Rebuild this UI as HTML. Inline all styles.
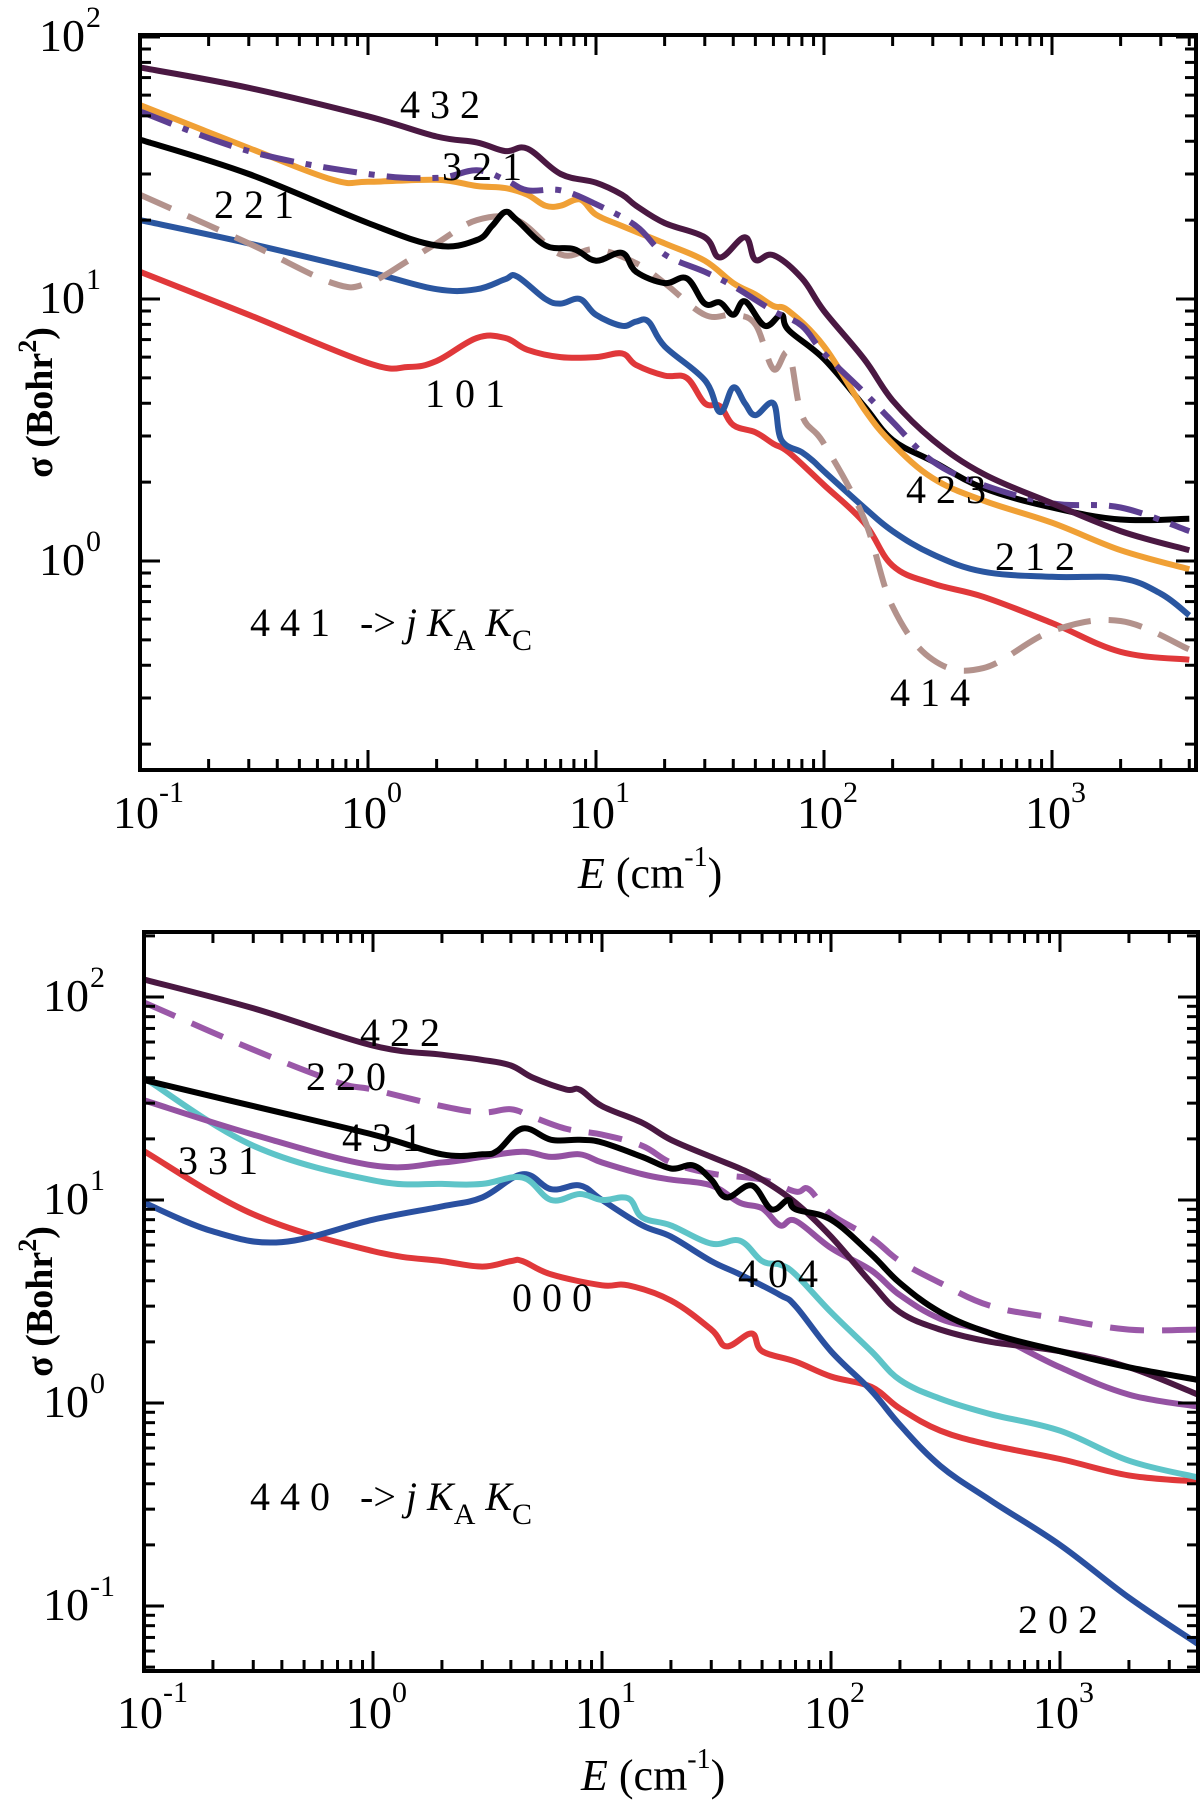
<!DOCTYPE html>
<html><head><meta charset="utf-8">
<style>
html,body{margin:0;padding:0;background:#fff;}
svg{display:block;font-family:"Liberation Serif",serif;}
</style></head>
<body>
<svg id="fig" width="1200" height="1806" viewBox="0 0 1200 1806" xmlns="http://www.w3.org/2000/svg"></svg>
<script>
// ---------- data: top panel (441 -> j KA KC) ----------
const topE_101=[0.1,0.3,1,1.5,2,3,4,5,7,10,13,15,20,25,30,35,40,50,60,70,100,150,200,300,500,1000,2000,4000];
const topS_101=[12.7,8.7,5.7,5.5,5.8,7.1,7.1,6.4,6.0,6.0,6.2,5.6,5.1,5.0,4.0,3.9,3.3,3.1,2.8,2.6,1.95,1.4,0.96,0.82,0.73,0.58,0.45,0.42];
const topE_212=[0.1,0.3,1,2,3,4,4.5,6,7,8.5,10,13,15,17,20,30,35,40,45,50,60,65,80,90,100,150,200,300,500,1000,2000,3000,4000];
const topS_212=[20,16.3,12.7,10.9,10.9,11.9,12.2,10,9.6,10,8.7,7.9,8.2,8.2,6.6,4.9,3.7,4.6,4.0,3.6,4.0,2.9,2.6,2.4,2.2,1.6,1.3,1.06,0.91,0.87,0.86,0.75,0.62];
const topE_221=[0.1,0.3,1,2,3,3.5,4,4.5,6,8,10,13,15,20,25,30,35,40,45,55,65,70,100,150,200,300,500,1000,2000,4000];
const topS_221=[40.6,30,19.5,16,16.8,19,21.5,20,16,15.5,14,15,12.7,11.5,12,9.6,9.7,8.7,9.8,7.9,8.7,7.6,5.9,3.9,2.9,2.4,1.9,1.6,1.44,1.45];
const topE_423=[0.1,0.3,0.7,1,2,3,4,5,6,7,8.5,10,13,20,30,40,50,60,70,100,150,200,300,500,1000,2000,4000];
const topS_423=[55,37.7,28.5,28,28.5,27,26.5,25,22.7,22.7,24,21,19,16.3,14,11.5,10.4,9.4,9.0,6.6,3.8,2.8,2.07,1.7,1.4,1.1,0.93];
const topE_321=[0.1,0.3,1,2,3,4,5,7,10,15,20,30,40,60,80,100,150,200,300,500,1000,2000,4000];
const topS_321=[52,36.7,30,29,31,28.5,26,26,23,19,14.8,12.7,11.2,9,7.9,6.2,4.4,3.4,2.4,1.95,1.66,1.6,1.3];
const topE_432=[0.1,0.3,1,2,3,4,5,7,10,13,15,20,30,35,45,50,60,80,100,150,200,300,500,1000,2000,4000];
const topS_432=[76.5,64,49.8,41.7,39.6,36.7,37.5,30,27.8,25,22.7,19.5,17.2,14.4,17.2,14.1,14.7,12,9.0,5.9,4.1,2.9,2.15,1.66,1.3,1.1];
const topE_414=[0.1,0.3,0.7,1,1.5,2,3,4.5,7,10,15,20,30,40,50,60,70,80,100,150,200,300,500,1000,2000,4000];
const topS_414=[25,16.3,11.5,11.5,14,16.3,20,20,14.8,15.5,13.7,11.5,8.7,8.7,8.0,5.4,6.2,3.6,2.8,1.45,0.67,0.42,0.39,0.54,0.59,0.46];
// ---------- data: bottom panel (440 -> j KA KC) ----------
const botE_000=[0.1,0.3,1,2,3,4,4.5,6,10,13,20,30,35,45,50,70,100,150,200,300,500,1000,2000,4000];
const botS_000=[17.4,8.5,5.6,5.0,4.7,5.0,5.0,4.3,3.8,3.8,3.2,2.3,1.9,2.2,1.8,1.6,1.35,1.2,0.94,0.73,0.62,0.53,0.44,0.41];
const botE_202=[0.1,0.2,0.4,1,2,3,4.5,6,8,10,15,20,30,40,60,70,100,150,200,300,500,1000,2000,4000];
const botS_202=[9.7,7.0,6.2,8.0,9.3,10.3,13.4,11.3,11.8,10,7.5,6.6,5.0,4.3,3.4,3.0,1.8,1.15,0.78,0.49,0.33,0.2,0.11,0.065];
const botE_404=[0.1,0.3,1,2,3,4.5,6,8,10,13,15,20,30,40,50,60,70,100,150,200,300,500,1000,2000,4000];
const botS_404=[40,18.5,12.5,12,12,12.9,10,10.7,10,10.2,8.2,7.5,6.1,6.3,5.0,4.8,4.3,2.8,1.8,1.3,1.05,0.88,0.73,0.52,0.43];
const botE_220=[0.1,0.3,0.7,1,2,3,4,5,7,10,15,20,30,50,70,80,100,150,200,300,500,1000,2000,4000];
const botS_220=[94,55,38,35,29,27,28,25.6,22.4,21,18.5,15.3,13.5,12.6,11,11.3,8.5,6.5,5.0,3.9,3.0,2.6,2.3,2.3];
const botE_422=[0.1,0.3,1,2,3,4,5,7,8,10,15,20,30,40,50,70,100,150,200,300,500,1000,2000,4000];
const botS_422=[122,88,57.6,52,49,46,40,35,35,29,24,19.8,16.3,14.3,12.6,9.7,6.6,3.9,2.8,2.3,2.0,1.8,1.5,1.1];
const botE_431=[0.1,0.3,1,2,3,3.5,4.5,6,8,10,15,20,25,30,35,45,55,65,70,100,150,200,300,500,1000,2000,4000];
const botS_431=[39,29,21,16.8,16.8,17.5,22.5,19.8,19.8,19.2,16.3,14.3,14.8,12.6,10.3,11.8,9.0,10,9.0,8.0,5.4,3.9,2.8,2.2,1.8,1.5,1.3];
const botE_331=[0.1,0.3,1,2,3,4.5,6,8,10,15,20,30,40,50,60,70,100,150,200,300,500,1000,2000,4000];
const botS_331=[31,21,14.8,15.3,16.3,17.3,16.3,16.8,15.3,13.4,12.6,11.8,9.7,9.1,7.5,7.9,5.8,4.5,3.4,2.6,2.2,1.5,1.1,0.96];
const xTickLabels=["-1","0","1","2","3"];

const NS="http://www.w3.org/2000/svg";
const svg=document.getElementById('fig');
function mk(tag,attrs,parent){const e=document.createElementNS(NS,tag);for(const k in attrs)e.setAttribute(k,attrs[k]);(parent||svg).appendChild(e);return e;}

function smoothPath(pts){
  let d='M'+pts[0][0].toFixed(1)+','+pts[0][1].toFixed(1);
  const k=0.18;
  for(let i=0;i<pts.length-1;i++){
    const p0=pts[Math.max(0,i-1)],p1=pts[i],p2=pts[i+1],p3=pts[Math.min(pts.length-1,i+2)];
    const c1=[p1[0]+(p2[0]-p0[0])*k,p1[1]+(p2[1]-p0[1])*k];
    const c2=[p2[0]-(p3[0]-p1[0])*k,p2[1]-(p3[1]-p1[1])*k];
    d+='C'+c1[0].toFixed(1)+','+c1[1].toFixed(1)+' '+c2[0].toFixed(1)+','+c2[1].toFixed(1)+' '+p2[0].toFixed(1)+','+p2[1].toFixed(1);
  }
  return d;
}

function panel(cfg){
  const g=mk('g',{});
  
  
  const L=cfg.left,R=cfg.right,T=cfg.top,B=cfg.bottom;
  const xs=v=>L+(Math.log10(v)-cfg.xmin)*cfg.xdec;
  const ys=v=>cfg.y0-(Math.log10(v))*cfg.ydec;
  const clip='clip-'+cfg.name;
  const defs=mk('defs',{},g);const cp=mk('clipPath',{id:clip},defs);mk('rect',{x:L,y:T,width:R-L,height:B-T},cp);
  cfg.series.forEach(s=>{
    const pts=s.E.map((e,i)=>[xs(e),ys(s.S[i])]);
    const p=mk('path',{d:smoothPath(pts),fill:'none',stroke:s.color,'stroke-width':6,'stroke-linejoin':'round','clip-path':'url(#'+clip+')'},g);
    if(s.dash)p.setAttribute('stroke-dasharray',s.dash);
    
    
  });
  const fr=mk('rect',{x:L,y:T,width:R-L,height:B-T,fill:'none',stroke:'#000','stroke-width':4},g);
  
  
  for(let dec=-1;dec<=3;dec++){
    for(let m=1;m<=9;m++){
      const v=m*Math.pow(10,dec);const x=xs(v);if(x>R-1)continue;
      const len=m===1?20:11;
      mk('line',{x1:x,y1:B,x2:x,y2:B-len,stroke:'#000','stroke-width':3},g);
      mk('line',{x1:x,y1:T,x2:x,y2:T+len,stroke:'#000','stroke-width':3},g);
    }
  }
  xTickLabels.forEach((lab,i)=>{
    const x=xs(Math.pow(10,i-1));
    const t=mk('text',{x:x-27,y:cfg.xlabY,'font-size':46,fill:'#000'},g);
    t.textContent='10';
    const sp=mk('tspan',{dy:-26,'font-size':30},t);sp.textContent=lab;
    
    
  });
  for(let dec=cfg.ydecMin;dec<=cfg.ydecMax;dec++){
    for(let m=1;m<=9;m++){
      const v=m*Math.pow(10,dec);const y=ys(v);if(y<T+1||y>B-1)continue;
      const len=m===1?20:11;
      mk('line',{x1:L,y1:y,x2:L+len,y2:y,stroke:'#000','stroke-width':3},g);
      mk('line',{x1:R,y1:y,x2:R-len,y2:y,stroke:'#000','stroke-width':3},g);
    }
  }
  cfg.yLabels.forEach(lab=>{
    const y=ys(Math.pow(10,+lab));
    const t=mk('text',{x:L-55,y:y+14,'font-size':46,'text-anchor':'end',fill:'#000'},g);
    t.textContent='10';
    
    
    const s=mk('text',{x:L-54,y:y-10,'font-size':30,fill:'#000'},g);s.textContent=lab;
    
    
  });
  const yt=mk('text',{transform:'translate(52,'+((T+B)/2)+') rotate(-90)','font-size':38,'font-weight':'bold','text-anchor':'middle',fill:'#000'},g);
  yt.innerHTML='σ (Bohr<tspan dy="-16" font-size="26">2</tspan><tspan dy="16">)</tspan>';
  
  
  const xt=mk('text',{x:(L+R)/2-90,y:cfg.xtitleY,'font-size':44,fill:'#000'},g);
  xt.innerHTML='<tspan font-style="italic">E</tspan> (cm<tspan dy="-22" font-size="28">-1</tspan><tspan dy="22">)</tspan>';
  
  
  cfg.labels.forEach(l=>{
    const t=mk('text',{x:l[1],y:l[2],'font-size':40,fill:'#000'},g);
    t.textContent=l[0];
    
    
  });
  const ti=mk('text',{x:250,y:cfg.transY,'font-size':40,fill:'#000'},g);
  ti.innerHTML=cfg.trans+'   -&gt; <tspan font-style="italic">j K</tspan><tspan dy="14" font-size="30">A</tspan><tspan dy="-14" font-style="italic"> K</tspan><tspan dy="14" font-size="30">C</tspan>';
  ti.style.whiteSpace='pre';
  
  
}

panel({name:'top-panel',left:140,right:1196,top:35,bottom:770,xmin:-1,xdec:228,y0:561,ydec:262,ydecMin:-1,ydecMax:2,
  yLabels:['2','1','0'],xlabY:828,xtitleY:888,transY:636,trans:'4 4 1',
  series:[
    {label:'1 0 1',E:topE_101,S:topS_101,color:'#e0383a'},
    {label:'2 1 2',E:topE_212,S:topS_212,color:'#2a56a0'},
    {label:'4 1 4',E:topE_414,S:topS_414,color:'#b3928c',dash:'34,18'},
    {label:'2 2 1',E:topE_221,S:topS_221,color:'#000'},
    {label:'4 2 3',E:topE_423,S:topS_423,color:'#f0a035'},
    {label:'3 2 1',E:topE_321,S:topS_321,color:'#5d3f92',dash:'34,12,6,12'},
    {label:'4 3 2',E:topE_432,S:topS_432,color:'#4a1842'}],
  labels:[['4 3 2',400,118],['3 2 1',442,180],['2 2 1',214,218],['1 0 1',425,407],['4 2 3',906,503],['2 1 2',995,570],['4 1 4',890,706]]});

panel({name:'bottom-panel',left:144,right:1198,top:932,bottom:1671,xmin:-1,xdec:229,y0:1403,ydec:203,ydecMin:-2,ydecMax:2,
  yLabels:['2','1','0','-1'],xlabY:1728,xtitleY:1790,transY:1510,trans:'4 4 0',
  series:[
    {label:'0 0 0',E:botE_000,S:botS_000,color:'#e0383a'},
    {label:'2 0 2',E:botE_202,S:botS_202,color:'#2a50a0'},
    {label:'4 0 4',E:botE_404,S:botS_404,color:'#5ec4c8'},
    {label:'3 3 1',E:botE_331,S:botS_331,color:'#9452a2'},
    {label:'2 2 0',E:botE_220,S:botS_220,color:'#9a58a8',dash:'34,18'},
    {label:'4 2 2',E:botE_422,S:botS_422,color:'#4a1842'},
    {label:'4 3 1',E:botE_431,S:botS_431,color:'#000'}],
  labels:[['4 2 2',360,1046],['2 2 0',306,1090],['4 3 1',342,1151],['3 3 1',178,1174],['4 0 4',738,1287],['0 0 0',512,1311],['2 0 2',1018,1633]]});
</script>
</body></html>
